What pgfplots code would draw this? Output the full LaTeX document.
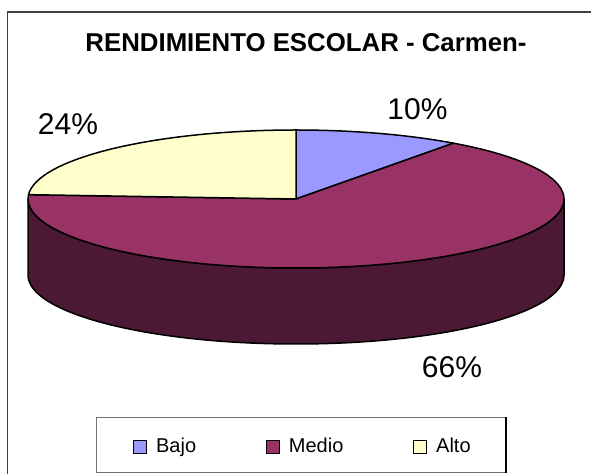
\documentclass[border=0pt]{standalone}
\usepackage{pgfplots}
\pgfplotsset{compat=1.18}
\usepackage{fontspec}
\setmainfont{Liberation Sans}
\definecolor{cBajo}{HTML}{9999FF}
\definecolor{cMedio}{HTML}{993366}
\definecolor{cAlto}{HTML}{FFFFCC}
\definecolor{cSide}{HTML}{4B1933}
\definecolor{cFrame}{HTML}{404040}
% data (percent)
\def\vBajo{10}
\def\vMedio{66}
\def\vAlto{24}
\begin{document}
\begin{tikzpicture}
\begin{axis}[
  width=591bp, height=474bp, scale only axis,
  xmin=0, xmax=591, ymin=0, ymax=474,
  hide axis, clip=false,
  legend columns=3,
  legend image code/.code={\draw[#1,line width=0.8bp] (0bp,-6.5bp) rectangle (13bp,6.5bp);},
  legend style={at={(axis cs:303,27.5)}, anchor=center, draw=none, fill=none,
    font=\fontsize{20bp}{24bp}\selectfont,
    /tikz/every odd column/.append style={column sep=7bp},
    /tikz/every even column/.append style={column sep=68bp}},
]
\addlegendimage{fill=cBajo, draw=black}
\addlegendentry{Bajo}
\addlegendimage{fill=cMedio, draw=black}
\addlegendentry{Medio}
\addlegendimage{fill=cAlto, draw=black}
\addlegendentry{Alto}

\pgfmathsetmacro\aA{90}
\pgfmathsetmacro\aB{\aA-3.6*\vBajo}
\pgfmathsetmacro\aC{\aB-3.6*\vMedio}
\pgfmathsetmacro\aD{\aC-3.6*\vAlto}

% frame
\draw[cFrame, line width=1.6bp] (axis cs:7.5,-10) -- (axis cs:7.5,462) -- (axis cs:610,462);
% legend box
\draw[black!55, line width=1bp] (axis cs:96,1) rectangle (axis cs:506,56);
\draw[black, line width=1.2bp] (axis cs:506,1) -- (axis cs:506,56.5);

% side of the pie
\filldraw[fill=cSide, draw=black, line width=1.5bp, line join=round]
  (axis cs:28,275) arc[start angle=180, end angle=360, x radius=268bp, y radius=69bp]
  -- ++(0,-76bp)
  arc[start angle=0, end angle=-180, x radius=268bp, y radius=69bp] -- cycle;
% top slices
\filldraw[fill=cBajo, draw=black, line width=1.5bp, line join=round]
  (axis cs:296,275) -- ++(\aA:268bp and 69bp)
  arc[start angle=\aA, end angle=\aB, x radius=268bp, y radius=69bp] -- cycle;
\filldraw[fill=cMedio, draw=black, line width=1.5bp, line join=round]
  (axis cs:296,275) -- ++(\aB:268bp and 69bp)
  arc[start angle=\aB, end angle=\aC, x radius=268bp, y radius=69bp] -- cycle;
\filldraw[fill=cAlto, draw=black, line width=1.5bp, line join=round]
  (axis cs:296,275) -- ++(\aC:268bp and 69bp)
  arc[start angle=\aC, end angle=\aD, x radius=268bp, y radius=69bp] -- cycle;

% texts
\node[anchor=base, font=\fontsize{25.8bp}{30bp}\selectfont\bfseries] at (axis cs:306,422) {RENDIMIENTO ESCOLAR - Carmen-};
\node[anchor=base, font=\fontsize{30bp}{36bp}\selectfont] at (axis cs:417.5,354) {\vBajo\%};
\node[anchor=base, font=\fontsize{30bp}{36bp}\selectfont] at (axis cs:68,339) {\vAlto\%};
\node[anchor=base, font=\fontsize{30bp}{36bp}\selectfont] at (axis cs:452,96) {\vMedio\%};
\end{axis}
\pgfresetboundingbox
\path[use as bounding box] (0,0) rectangle (591bp,474bp);
\end{tikzpicture}
\end{document}
